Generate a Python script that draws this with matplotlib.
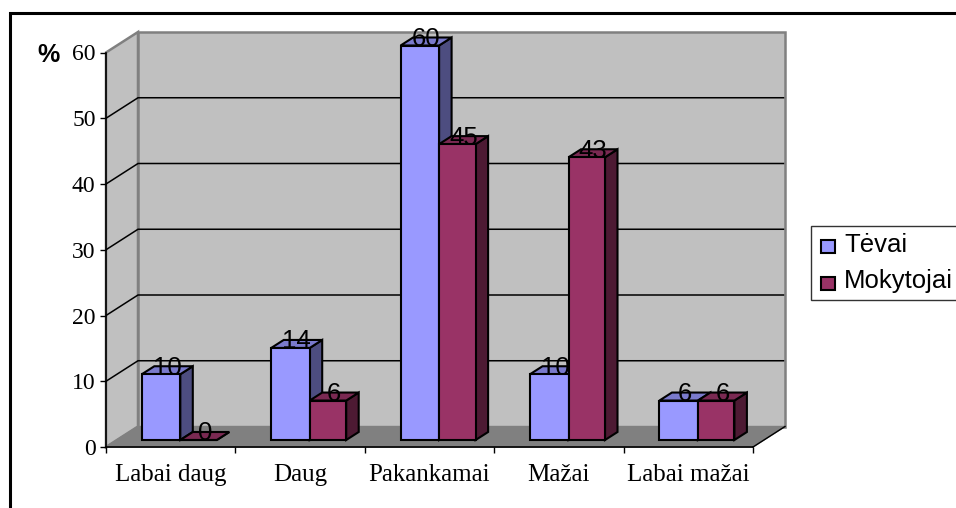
import numpy as np
import matplotlib
matplotlib.use('Agg')
import matplotlib.pyplot as plt
from matplotlib.patches import Polygon, Rectangle

categories = ['Labai daug', 'Daug', 'Pakankamai', 'Mažai', 'Labai mažai']
tevai = [10, 14, 60, 10, 6]
mokytojai = [0, 6, 45, 43, 6]
y_ticks = [0, 10, 20, 30, 40, 50, 60]

W, H = 956, 508
fig = plt.figure(figsize=(W / 100, H / 100), dpi=100)

# front of the plot box, pixels of the picture
x0, x1, y0, y60 = 106, 753, 447, 52.5
ax = fig.add_axes([x0 / W, 1 - y0 / H, (x1 - x0) / W, (y0 - y60) / H])
ax.set_xlim(0, len(categories))
ax.set_ylim(0, 60)
ax.patch.set_visible(False)

px = (x1 - x0) / len(categories)  # pixels per category
py = (y0 - y60) / 60              # pixels per unit
dep_x = 32 / px
dep_y = 20.5 / py
bar_dx = 12.5 / px
bar_dy = 8 / py
off_x = 35.8 / px
off_y = 7 / py
bw1 = 38.5 / px
bw2 = 36.5 / px


def poly(pts, fc, ec='black', lw=1.5, z=2):
    ax.add_patch(Polygon(pts, closed=True, facecolor=fc, edgecolor=ec, linewidth=lw,
                         zorder=z, clip_on=False, joinstyle='miter'))


n = len(categories)
# walls and floor
poly([(0, 0), (dep_x, dep_y), (dep_x, 60 + dep_y), (0, 60)], '#c0c0c0', ec='#808080', lw=1.8, z=1)
poly([(dep_x, dep_y), (n + dep_x, dep_y), (n + dep_x, 60 + dep_y), (dep_x, 60 + dep_y)], '#c0c0c0', ec='#808080', lw=1.8, z=1)
poly([(0, 0), (n, 0), (n + dep_x, dep_y), (dep_x, dep_y)], '#808080', ec='#808080', lw=1, z=1)
ax.plot([n, n + dep_x], [0, dep_y], color='black', lw=1, zorder=1.5, clip_on=False)

# gridlines
for v in y_ticks[1:-1]:
    ax.plot([0, dep_x, n + dep_x - 0.006], [v, v + dep_y, v + dep_y], color='black', lw=1.1, zorder=1.5,
            clip_on=False, solid_joinstyle='miter', solid_capstyle='butt')


def bar(left, width, h, front, top, side):
    l = left
    r = left + width
    b = off_y
    t = off_y + h
    poly([(r, b), (r + bar_dx, b + bar_dy), (r + bar_dx, t + bar_dy), (r, t)], side)
    poly([(l, t), (r, t), (r + bar_dx, t + bar_dy), (l + bar_dx, t + bar_dy)], top)
    poly([(l, b), (r, b), (r, t), (l, t)], front)


for i in range(n):
    left = i + off_x
    bar(left, bw1, tevai[i], '#9999ff', '#7a7acc', '#4d4d80')
    bar(left + bw1, bw2, mokytojai[i], '#993366', '#7a2952', '#4d1a33')
    centers = [left + bw1 / 2, left + bw1 + bw2 / 2]
    for c, val in zip(centers, [tevai[i], mokytojai[i]]):
        ax.text(c + bar_dx / 2, val + off_y + bar_dy / 2 + 2.5 / py, str(val),
                ha='center', va='center', fontsize=18.5, family='Liberation Sans',
                color='black', zorder=5, clip_on=False)

# axes
for s in ['top', 'right']:
    ax.spines[s].set_visible(False)
for s in ['left', 'bottom']:
    ax.spines[s].set_linewidth(1.2)
    ax.spines[s].set_zorder(4)
ax.set_yticks(y_ticks)
ax.set_yticklabels([str(v) for v in y_ticks], family='Liberation Serif', fontsize=17)
ax.set_xticks(np.arange(n + 1))
ax.set_xticklabels([])
ax.set_xticks(np.arange(n) + 0.5, minor=True)
ax.set_xticklabels(categories, minor=True, family='Liberation Serif', fontsize=18)
ax.tick_params(axis='x', which='minor', length=0, pad=12.5)
ax.tick_params(axis='both', which='major', length=4.5, width=1, direction='out')
ax.tick_params(axis='y', pad=3)

fig.text(49 / W, 1 - 55 / H, '%', family='Liberation Sans', fontweight='bold', fontsize=18,
         ha='center', va='center')

# outer frame
fig.add_artist(Rectangle((10 / W, -0.05), 1.1, 1 - 13 / H + 0.05, transform=fig.transFigure,
                         facecolor='none', edgecolor='black', linewidth=2.2))

# legend
fig.add_artist(Rectangle((811 / W, 1 - 300 / H), 0.2, 74 / H, transform=fig.transFigure,
                         facecolor='white', edgecolor='#333333', linewidth=1))
for lab, col, yy, base in [('Tėvai', '#9999ff', 246, 252), ('Mokytojai', '#993366', 283, 288)]:
    fig.add_artist(Rectangle((821 / W, 1 - (yy + 7) / H), 14 / W, 13 / H, transform=fig.transFigure,
                             facecolor=col, edgecolor='black', linewidth=1.5))
    fig.text(844 / W, 1 - base / H, lab, family='Liberation Sans', fontsize=18.5, ha='left', va='baseline')

fig.savefig('out.png', dpi=100)
